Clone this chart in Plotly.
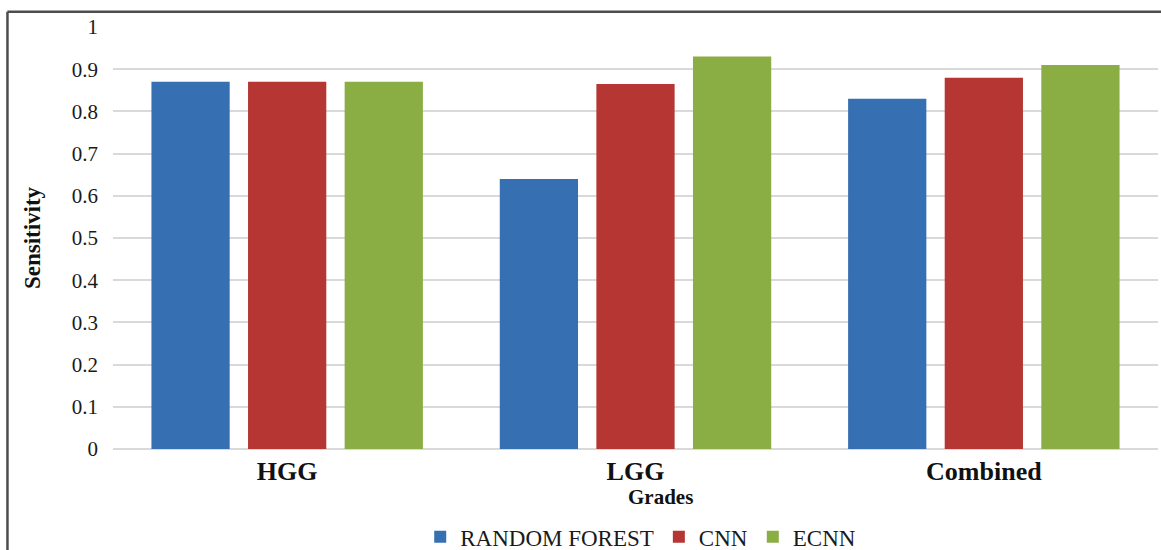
import plotly.graph_objects as go

grades = ["HGG", "LGG", "Combined"]
random_forest = [0.87, 0.64, 0.83]
cnn = [0.87, 0.865, 0.88]
ecnn = [0.87, 0.93, 0.91]
y_ticks = [0, 0.1, 0.2, 0.3, 0.4, 0.5, 0.6, 0.7, 0.8, 0.9, 1]
y_tick_text = ["0", "0.1", "0.2", "0.3", "0.4", "0.5", "0.6", "0.7", "0.8", "0.9", "1"]

series = [
    ("RANDOM FOREST", random_forest, "#3770B2"),
    ("CNN", cnn, "#B53633"),
    ("ECNN", ecnn, "#8BAE44"),
]

serif = "Liberation Serif, Times New Roman, serif"

fig = go.Figure()
for name, vals, color in series:
    fig.add_trace(go.Bar(
        x=grades, y=vals, name=name,
        marker=dict(color=color, line=dict(width=0)),
    ))

fig.update_layout(
    width=1161, height=550,
    margin=dict(l=113, r=3, t=27, b=101, autoexpand=False),
    paper_bgcolor="white", plot_bgcolor="white",
    barmode="group", bargap=0.168, bargroupgap=0.19,
    font=dict(family=serif, color="#1a1a1a", size=22),
    showlegend=True,
    legend=dict(
        orientation="h", x=0.505, xanchor="center", y=-0.208, yanchor="middle",
        font=dict(size=23, family=serif, color="#1a1a1a", weight="normal"),
        itemwidth=30, tracegroupgap=0,
        bgcolor="rgba(0,0,0,0)",
    ),
    xaxis=dict(
        showgrid=False, showline=False, zeroline=False, automargin=False,
        tickfont=dict(size=26, family=serif, color="#111111", weight="bold"),
        ticklabelstandoff=4,
    ),
    yaxis=dict(
        range=[0, 1], tickvals=y_ticks, ticktext=y_tick_text, automargin=False,
        showgrid=True, gridcolor="#d9d9d9", gridwidth=1.5,
        zeroline=True, zerolinecolor="#d9d9d9", zerolinewidth=1.5,
        showline=False,
        tickfont=dict(size=21, family=serif, color="#1a1a1a"),
        ticklabelstandoff=14,
        title=dict(text="Sensitivity", standoff=24,
                   font=dict(size=23, family=serif, color="#111111", weight="bold")),
    ),
    annotations=[
        dict(text="<b>Grades</b>", xref="paper", yref="paper",
             x=0.524, y=-0.113, xanchor="center", yanchor="middle",
             showarrow=False, font=dict(size=21, family=serif, color="#111111")),
    ],
    shapes=[
        dict(type="line", xref="paper", yref="paper", x0=-0.101, x1=1.01, y0=1.036, y1=1.036,
             line=dict(color="#4d4d4d", width=2.5)),
        dict(type="line", xref="paper", yref="paper", x0=-0.101, x1=-0.101, y0=1.036, y1=-0.3,
             line=dict(color="#4d4d4d", width=2.5)),
    ],
)

fig.write_html("out.html")
